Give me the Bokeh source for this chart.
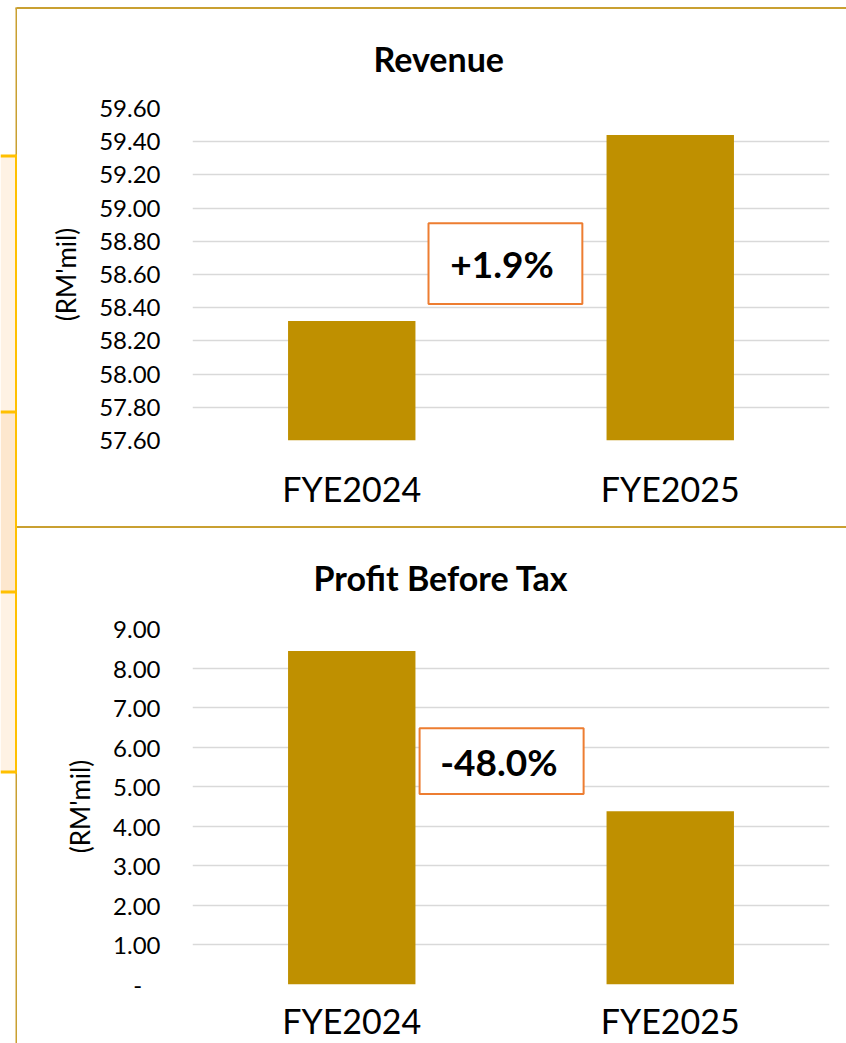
from bokeh.plotting import figure
from bokeh.models import (FactorRange, Range1d, FixedTicker, NumeralTickFormatter,
                          BoxAnnotation, Label, Div)
from bokeh.layouts import column, row
from bokeh.embed import file_html
from bokeh.resources import INLINE

# ---------------- data ----------------
categories = ["FYE2024", "FYE2025"]
revenue = [58.32, 59.44]
pbt = [8.43, 4.38]
rev_ticks = [57.6, 57.8, 58.0, 58.2, 58.4, 58.6, 58.8, 59.0, 59.2, 59.4, 59.6]
pbt_ticks = [0, 1, 2, 3, 4, 5, 6, 7, 8, 9]
rev_title = "Revenue"
pbt_title = "Profit Before Tax"
unit_label = "(RM'mil)"

FONT = "Lato"
BAR = "#BF9000"
GRID = "#D9D9D9"
ORANGE = "#FFC000"
GOLD = "#C9A031"
BOXLINE = "#ED7D31"
LIGHT = "#FEF2E4"
DARK = "#FDE7CE"

STRIP_W = 17
CHART_W = 846 - STRIP_W
PAGE_H = 1043

# decoration rectangles of the page edge (left, right, top, bottom, colour), in pixels
strip_rects = [
    (15, 16.5, 7, 155, GOLD),
    (15, 16.5, 771, PAGE_H, GOLD),
    (15, 17, 7, 9, GOLD),
    (15, 17, 526, 528, GOLD),
    (0, 15, 155, 411, LIGHT),
    (0, 15, 411, 591, DARK),
    (0, 15, 591, 771, LIGHT),
    (0, 17, 154, 157, ORANGE),
    (0, 17, 410, 413, ORANGE),
    (0, 17, 590, 593, ORANGE),
    (0, 17, 770, 773, ORANGE),
    (14.5, 17, 154, 773, ORANGE),
]


def band(h, color):
    return Div(text="", width=CHART_W, height=h, margin=0,
               styles={"background-color": color, "overflow": "hidden",
                       "padding": "0", "margin": "0"})


def make_chart(title, values, ticks, height, mb_top, mb_bottom, pct_box, title_offset,
               label_override=None, x_standoff=27, title_standoff=56):
    p = figure(x_range=FactorRange(factors=categories, range_padding=0),
               y_range=Range1d(ticks[0], ticks[-1]),
               width=CHART_W, height=height, output_backend="svg", toolbar_location=None,
               min_border_left=192 - STRIP_W, min_border_right=17,
               min_border_top=mb_top, min_border_bottom=mb_bottom)
    p.background_fill_color = "white"
    p.border_fill_color = "white"
    p.outline_line_color = None
    p.vbar(x=categories, top=values, bottom=ticks[0], width=0.4,
           fill_color=BAR, line_color=None)

    p.xgrid.grid_line_color = None
    p.ygrid.ticker = FixedTicker(ticks=ticks)
    p.ygrid.grid_line_color = GRID
    p.ygrid.grid_line_width = 1.5

    ya = p.yaxis[0]
    ya.ticker = FixedTicker(ticks=ticks)
    ya.formatter = NumeralTickFormatter(format="0.00")
    if label_override:
        ya.major_label_overrides = label_override
    ya.axis_line_color = None
    ya.major_tick_line_color = None
    ya.minor_tick_line_color = None
    ya.major_tick_out = 0
    ya.major_label_standoff = 32
    ya.major_label_text_font = FONT
    ya.major_label_text_font_size = "24px"
    ya.major_label_text_color = "#000000"
    ya.axis_label = unit_label
    ya.axis_label_text_font = FONT
    ya.axis_label_text_font_size = "26px"
    ya.axis_label_text_font_style = "normal"
    ya.axis_label_text_color = "#000000"
    ya.axis_label_standoff = 14

    xa = p.xaxis[0]
    xa.axis_line_color = None
    xa.major_tick_line_color = None
    xa.minor_tick_line_color = None
    xa.major_tick_out = 0
    xa.major_label_standoff = x_standoff
    xa.major_label_text_font = FONT
    xa.major_label_text_font_size = "34px"
    xa.major_label_text_color = "#000000"

    p.title.text = title
    p.title.text_font = FONT
    p.title.text_font_size = "34px"
    p.title.text_font_style = "bold"
    p.title.text_color = "#000000"
    p.title.align = "left"
    p.title.vertical_align = "top"
    p.title.offset = title_offset
    p.title.standoff = title_standoff

    # percentage change box
    pct = (values[1] - values[0]) / values[0] * 100
    txt = ("+" if pct >= 0 else "") + f"{pct:.1f}%"
    l, r, t, b, lx, ly = pct_box
    p.add_layout(BoxAnnotation(left=l, right=r, top=t, bottom=b,
                               fill_color="white", fill_alpha=1.0,
                               line_color=BOXLINE, line_alpha=1.0, line_width=2))
    p.add_layout(Label(x=lx, y=ly, text=txt, text_font=FONT, text_font_size="37px",
                       text_font_style="bold", text_align="center",
                       text_baseline="middle", text_color="#000000"))
    return p


top = make_chart(rev_title, revenue, rev_ticks, 517, 98, 86,
                 (0.741, 1.224, 58.909, 58.423, 0.972, 58.666), 181)
bot = make_chart(pbt_title, pbt, pbt_ticks, 515, 99, 59,
                 (0.713, 1.228, 6.479, 4.815, 0.962, 5.647), 121,
                 label_override={0: "-\u00a0\u00a0\u00a0"}, x_standoff=15,
                 title_standoff=57)

# left page strip with the edge of the neighbouring table
strip = figure(width=STRIP_W, height=PAGE_H, x_axis_type=None, y_axis_type=None,
               x_range=Range1d(0, STRIP_W), y_range=Range1d(PAGE_H, 0),
               output_backend="svg", toolbar_location=None, min_border=0)
strip.outline_line_color = None
strip.grid.visible = False
strip.background_fill_color = "white"
strip.border_fill_color = "white"
strip.quad(left=[r[0] for r in strip_rects], right=[r[1] for r in strip_rects],
           top=[r[2] for r in strip_rects], bottom=[r[3] for r in strip_rects],
           fill_color=[r[4] for r in strip_rects], line_color=None)

charts = column(band(7, "white"), band(2, GOLD), top, band(2, GOLD), bot, spacing=0)
layout = row(strip, charts, spacing=0)
open("out.html", "w").write(file_html(layout, INLINE))
